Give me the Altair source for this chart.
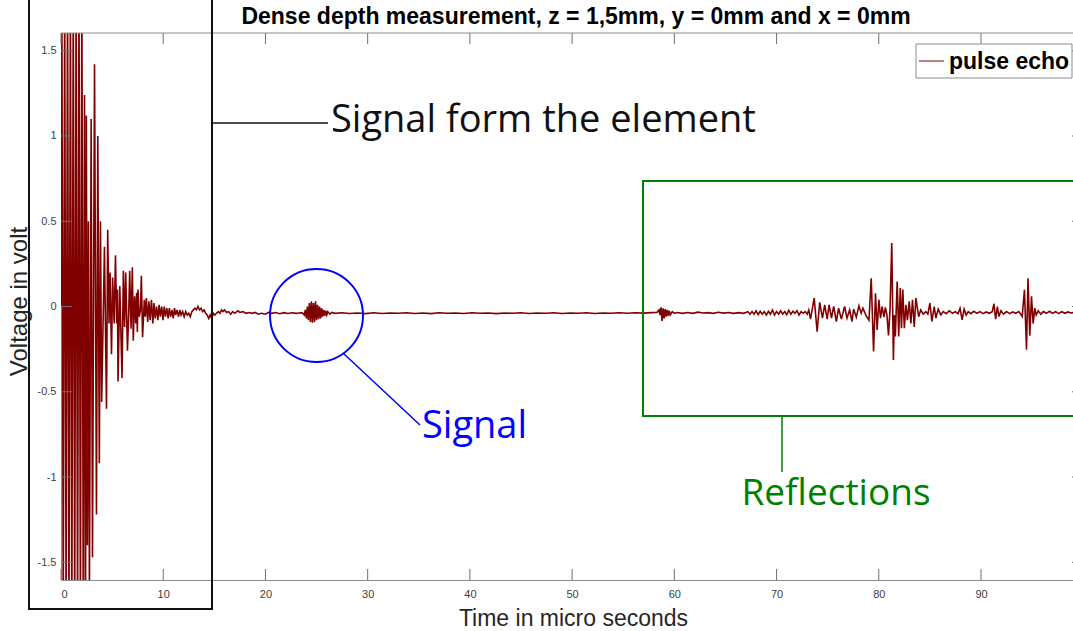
import altair as alt
import pandas as pd

# ---------------- data (time in us, voltage in V) ----------------
ringdown = [
    (0.00, 0.0), (0.08, 1.9), (0.22, -1.9), (0.36, 1.9), (0.50, -1.9), (0.64, 1.9), (0.78, -1.9),
    (0.92, 1.9), (1.06, -1.9), (1.20, 1.9), (1.34, -1.9), (1.48, 1.9), (1.62, -1.9), (1.76, 1.9),
    (1.90, -1.9), (2.04, 1.9), (2.18, -1.9), (2.30, 1.24), (2.40, -1.9), (2.48, 1.12), (2.58, -1.4),
    (2.68, 0.5), (2.78, -1.7), (2.95, 1.1), (3.08, -1.47), (3.28, 1.42), (3.47, -1.22), (3.60, 1.0),
    (3.75, -0.92), (3.86, 0.5), (3.98, -0.56), (4.25, 0.35), (4.45, -0.6), (4.57, 0.45), (4.70, -0.1),
    (4.80, 0.2), (4.94, -0.28), (5.05, 0.17), (5.20, -0.1), (5.33, 0.30), (5.45, -0.1), (5.52, 0.1),
    (5.58, -0.44), (5.75, 0.12), (5.97, -0.42), (6.10, 0.21), (6.22, -0.12), (6.33, 0.20),
    (6.50, -0.26), (6.62, -0.05), (6.72, 0.21), (6.85, -0.13), (6.98, 0.23), (7.07, -0.20),
    (7.20, 0.06), (7.32, -0.10), (7.40, 0.08), (7.47, -0.15), (7.53, 0.10), (7.65, -0.06),
    (7.78, -0.02), (7.86, 0.18), (7.98, -0.18),
]
tail = [
    (8.15, 0.04), (8.25, -0.06), (8.35, 0.05), (8.48, -0.09), (8.60, 0.03), (8.72, -0.08),
    (8.85, 0.04), (8.98, -0.10), (9.10, 0.02), (9.22, -0.07), (9.35, 0.00), (9.48, -0.08),
    (9.60, 0.01), (9.72, -0.06), (9.85, 0.00), (9.98, -0.08), (10.10, 0.00), (10.22, -0.06),
    (10.35, -0.01), (10.48, -0.07), (10.60, -0.01), (10.72, -0.06), (10.85, -0.02), (10.98, -0.07),
    (11.10, -0.01), (11.22, -0.05), (11.35, -0.02), (11.50, -0.06), (11.62, -0.02), (11.75, -0.05),
    (11.90, -0.03), (12.05, -0.06), (12.20, -0.03), (12.35, -0.05), (12.50, -0.04), (12.65, -0.06),
    (12.80, -0.03), (12.95, -0.02), (13.10, -0.01), (13.25, -0.02), (13.40, 0.00), (13.55, -0.02),
    (13.70, -0.01), (13.85, -0.03), (14.00, -0.02), (14.15, -0.04), (14.30, -0.05), (14.45, -0.07),
    (14.60, -0.05), (14.75, -0.07), (14.90, -0.04), (15.05, -0.05), (15.20, -0.04), (15.40, -0.03),
    (15.55, -0.04), (15.70, -0.02), (15.85, -0.03), (16.00, -0.02), (16.20, -0.035), (16.40, -0.03),
    (16.60, -0.045), (16.80, -0.03), (17.00, -0.04), (17.30, -0.025), (17.50, -0.035), (17.80, -0.03),
    (18.10, -0.04), (18.40, -0.035), (18.70, -0.04), (19.00, -0.035), (19.30, -0.045), (19.60, -0.04),
    (20.00, -0.045), (20.30, -0.035), (20.60, -0.04), (21.00, -0.035), (21.40, -0.042),
    (21.80, -0.036), (22.20, -0.041), (22.60, -0.037), (23.00, -0.04),
]
signal_burst = [
    (23.3, -0.038), (23.6, -0.036), (23.8, -0.05), (23.9, -0.02), (24.0, -0.07), (24.1, 0.0),
    (24.2, -0.08), (24.3, 0.02), (24.4, -0.09), (24.5, 0.03), (24.6, -0.095), (24.7, 0.02),
    (24.8, -0.09), (24.9, 0.03), (25.0, -0.08), (25.1, 0.01), (25.2, -0.075), (25.3, 0.0),
    (25.4, -0.07), (25.5, -0.01), (25.6, -0.06), (25.7, -0.02), (25.8, -0.055), (25.9, -0.025),
    (26.0, -0.05), (26.1, -0.03), (26.3, -0.045), (26.5, -0.035), (26.8, -0.04),
]
flat = [
    (27.5, -0.037), (28.2, -0.041), (29.0, -0.038), (29.8, -0.042), (30.6, -0.037), (31.4, -0.041),
    (32.2, -0.038), (33.0, -0.04), (33.8, -0.037), (34.6, -0.041), (35.4, -0.038), (36.2, -0.042),
    (37.0, -0.037), (37.8, -0.04), (38.6, -0.038), (39.4, -0.041), (40.2, -0.037), (41.0, -0.04),
    (41.8, -0.038), (42.6, -0.042), (43.4, -0.038), (44.2, -0.04), (45.0, -0.037), (45.8, -0.041),
    (46.6, -0.038), (47.4, -0.04), (48.2, -0.037), (49.0, -0.041), (49.8, -0.038), (50.6, -0.04),
    (51.4, -0.037), (52.2, -0.041), (53.0, -0.038), (53.8, -0.04), (54.6, -0.037), (55.4, -0.04),
    (56.2, -0.037), (57.0, -0.039), (57.8, -0.036), (58.3, -0.035),
]
first_echo = [
    (58.5, -0.02), (58.6, -0.05), (58.7, -0.005), (58.8, -0.085), (58.9, -0.01), (59.0, -0.07),
    (59.1, -0.015), (59.2, -0.06), (59.3, -0.02), (59.4, -0.055), (59.5, -0.025), (59.6, -0.05),
    (59.8, -0.03), (60.0, -0.04), (60.3, -0.035), (60.8, -0.04), (61.3, -0.035), (61.8, -0.04),
    (62.3, -0.033), (62.8, -0.038), (63.3, -0.036), (63.8, -0.04), (64.3, -0.034), (64.8, -0.039),
    (65.3, -0.035), (65.8, -0.04), (66.3, -0.036), (66.8, -0.04), (67.2, -0.03), (67.4, -0.045),
    (67.6, -0.03), (67.8, -0.045), (68.0, -0.025), (68.2, -0.048), (68.4, -0.028), (68.6, -0.045),
    (68.8, -0.03), (69.0, -0.05), (69.2, -0.028), (69.4, -0.045), (69.6, -0.02), (69.8, -0.05),
    (70.0, -0.03), (70.2, -0.045), (70.4, -0.025), (70.6, -0.045), (70.8, -0.03), (71.0, -0.048),
    (71.2, -0.022), (71.4, -0.045), (71.6, -0.028), (71.8, -0.04), (72.0, -0.025), (72.2, -0.05),
    (72.4, -0.03), (72.6, -0.04), (72.8, -0.03), (73.0, -0.045), (73.15, -0.02),
]
reflections = [
    (73.32, -0.074), (73.68, 0.049), (73.97, -0.147), (74.22, 0.024), (74.49, -0.068), (74.71, 0.01),
    (74.95, -0.074), (75.14, 0.01), (75.37, -0.068), (75.59, 0.0), (75.85, -0.088), (76.07, -0.01),
    (76.34, -0.074), (76.66, 0.0), (76.89, -0.068), (77.15, -0.02), (77.38, -0.088), (77.54, -0.015),
    (77.8, -0.062), (78.06, 0.004), (78.28, -0.039), (78.45, -0.01), (78.77, -0.055), (79.04, -0.08),
    (79.26, 0.166), (79.49, -0.264), (79.68, 0.078), (79.84, -0.137), (80.01, 0.04), (80.17, -0.068),
    (80.33, 0.0), (80.5, -0.062), (80.65, -0.005), (80.8, -0.05), (80.95, -0.17), (81.1, -0.02),
    (81.27, 0.372), (81.43, -0.313), (81.52, -0.05), (81.62, -0.176), (81.8, 0.147), (81.95, -0.176),
    (82.1, 0.108), (82.22, -0.127), (82.35, 0.1), (82.5, -0.127), (82.66, 0.01), (82.8, -0.08),
    (82.98, 0.03), (83.14, -0.1), (83.3, 0.04), (83.47, -0.12), (83.63, 0.05), (83.9, -0.06),
    (84.1, -0.02), (84.35, -0.045), (84.6, -0.03), (84.8, -0.045), (85.0, 0.02), (85.2, -0.088),
    (85.42, 0.0), (85.59, -0.068), (85.81, -0.015), (86.07, -0.049), (86.3, -0.03), (86.6, -0.042),
    (86.9, -0.025), (87.2, -0.04), (87.5, -0.03), (87.75, -0.042), (87.95, -0.01), (88.15, -0.078),
    (88.35, -0.015), (88.55, -0.05), (88.75, -0.03), (89.0, -0.042), (89.3, -0.028), (89.6, -0.04),
    (89.9, -0.03), (90.2, -0.042), (90.5, -0.032), (90.8, -0.04), (91.1, -0.03), (91.27, 0.016),
    (91.43, -0.074), (91.6, 0.0), (91.75, -0.059), (91.95, -0.025), (92.2, -0.045), (92.5, -0.03),
    (92.8, -0.042), (93.1, -0.032), (93.4, -0.04), (93.7, -0.03), (94.03, -0.059), (94.25, 0.098),
    (94.45, -0.254), (94.6, 0.166), (94.77, -0.172), (94.94, 0.06), (95.1, -0.1), (95.26, -0.01),
    (95.4, -0.05), (95.6, -0.025), (95.85, -0.045), (96.1, -0.03), (96.4, -0.04), (96.7, -0.028),
    (97.0, -0.04), (97.3, -0.03), (97.6, -0.042), (97.9, -0.03), (98.2, -0.04), (98.5, -0.032),
    (98.8, -0.038), (99.1, -0.035),
]

x_ticks = [0, 10, 20, 30, 40, 50, 60, 70, 80, 90]
y_ticks = [-1.5, -1, -0.5, 0, 0.5, 1, 1.5]

title_text = "Dense depth measurement, z = 1,5mm, y = 0mm and x = 0mm"
legend_label = "pulse echo"
note_element = "Signal form the element"
note_signal = "Signal"
note_reflections = "Reflections"

# ---------------- chart ----------------
df = pd.DataFrame(ringdown + tail + signal_burst + flat + first_echo + reflections,
                  columns=["t", "v"])
xt = pd.DataFrame({"t": x_ticks})
yt = pd.DataFrame({"v": y_ticks})
one = alt.Data(values=[{"k": 1}])

W, H = 1012, 547
AX = "#8c8c8c"
xs = alt.Scale(domain=[0, 99.0], nice=False, zero=False)
ys = alt.Scale(domain=[-1.604, 1.604], nice=False, zero=False)

x_axis = alt.Axis(
    values=x_ticks, labelExpr="'' + datum.value", ticks=False, grid=False,
    domainColor=AX, labelColor="#404040", labelFont="Liberation Sans", labelFontSize=11,
    labelPadding=8, title="Time in micro seconds", titleFont="Liberation Sans",
    titleFontSize=23, titleFontWeight="normal", titleColor="#262626",
    titleBaseline="alphabetic", titleY=45, titleX=512)
y_axis = alt.Axis(
    values=y_ticks, labelExpr="'' + datum.value", ticks=False, grid=False,
    domainColor=AX, labelColor="#404040", labelFont="Liberation Sans", labelFontSize=11,
    labelPadding=5, title="Voltage in volt", titleFont="Liberation Sans",
    titleFontSize=24, titleFontWeight="normal", titleColor="#262626",
    titleAngle=270, titleBaseline="alphabetic", titleAlign="center",
    titleX=-35, titleY=268)

line = alt.Chart(df).mark_line(color="#800000", strokeWidth=1.6, clip=True).encode(
    x=alt.X("t:Q", scale=xs, axis=x_axis),
    y=alt.Y("v:Q", scale=ys, axis=y_axis),
)

tick_bottom = alt.Chart(xt).mark_rule(color="#707070").encode(
    x=alt.X("t:Q", scale=xs, axis=x_axis), y=alt.value(H), y2=alt.value(H - 11))
tick_top = alt.Chart(xt).mark_rule(color="#707070").encode(
    x=alt.X("t:Q", scale=xs, axis=x_axis), y=alt.value(0), y2=alt.value(11))
tick_left = alt.Chart(yt).mark_rule(color="#707070").encode(
    y=alt.Y("v:Q", scale=ys, axis=y_axis), x=alt.value(0), x2=alt.value(11))
tick_right = alt.Chart(yt).mark_rule(color="#707070").encode(
    y=alt.Y("v:Q", scale=ys, axis=y_axis), x=alt.value(W - 1), x2=alt.value(W + 10))
top_border = alt.Chart(one).mark_rule(color=AX).encode(
    x=alt.value(0), x2=alt.value(W + 20), y=alt.value(0))

# annotation: element box
elem_box = alt.Chart(one).mark_rect(fillOpacity=0, stroke="#111111", strokeWidth=2).encode(
    x=alt.value(-32), x2=alt.value(151), y=alt.value(-45), y2=alt.value(576))
elem_line = alt.Chart(one).mark_rule(color="#111111", strokeWidth=1.5).encode(
    x=alt.value(151), x2=alt.value(267), y=alt.value(90))
elem_text = alt.Chart(one).mark_text(
    text=note_element, font="Open Sans", fontSize=38, align="left", baseline="middle",
    color="#111111").encode(x=alt.value(270), y=alt.value(88))

# annotation: signal circle
sig_circle = alt.Chart(one).mark_point(
    shape="circle", filled=False, size=8649, strokeWidth=2, color="#0000ff", opacity=1).encode(
    x=alt.value(255.5), y=alt.value(282.5))
sig_line = alt.Chart(one).mark_rule(color="#0000ff", strokeWidth=1.5).encode(
    x=alt.value(282.3), y=alt.value(320.3), x2=alt.value(359), y2=alt.value(392))
sig_text = alt.Chart(one).mark_text(
    text=note_signal, font="Open Sans", fontSize=38, align="left", baseline="middle",
    color="#0000ff").encode(x=alt.value(361), y=alt.value(394))

# annotation: reflections box
ref_box = alt.Chart(one).mark_rect(fillOpacity=0, stroke="#008000", strokeWidth=2).encode(
    x=alt.value(582), x2=alt.value(1040), y=alt.value(148), y2=alt.value(383))
ref_line = alt.Chart(one).mark_rule(color="#008000", strokeWidth=1.5).encode(
    x=alt.value(721), y=alt.value(383), y2=alt.value(439))
ref_text = alt.Chart(one).mark_text(
    text=note_reflections, font="Open Sans", fontSize=37, align="center", baseline="middle",
    color="#008000").encode(x=alt.value(775), y=alt.value(461))

# legend
leg_box = alt.Chart(one).mark_rect(fill="white", stroke=AX, strokeWidth=1).encode(
    x=alt.value(855), x2=alt.value(1011), y=alt.value(11), y2=alt.value(45))
leg_line = alt.Chart(one).mark_rule(color="#800000", strokeWidth=1).encode(
    x=alt.value(858), x2=alt.value(883), y=alt.value(28))
leg_text = alt.Chart(one).mark_text(
    text=legend_label, font="Liberation Sans", fontSize=23, fontWeight="bold", align="left",
    baseline="alphabetic", color="#000000").encode(x=alt.value(888), y=alt.value(36))

# title
title = alt.Chart(one).mark_text(
    text=title_text, font="Liberation Sans", fontSize=23, fontWeight="bold", align="center",
    baseline="alphabetic", color="#000000").encode(x=alt.value(515), y=alt.value(-9))

chart = alt.layer(
    line, tick_bottom, tick_top, tick_left, tick_right, top_border,
    elem_box, elem_line, elem_text, sig_circle, sig_line, sig_text,
    ref_box, ref_line, ref_text, leg_box, leg_line, leg_text, title,
).properties(
    width=W, height=H,
    autosize=alt.AutoSizeParams(type="none"),
    padding={"left": 61, "top": 33, "right": 0, "bottom": 51},
    background="white",
).configure_view(stroke=None)

chart.save("out.html", embed_options={"renderer": "svg", "actions": False})
